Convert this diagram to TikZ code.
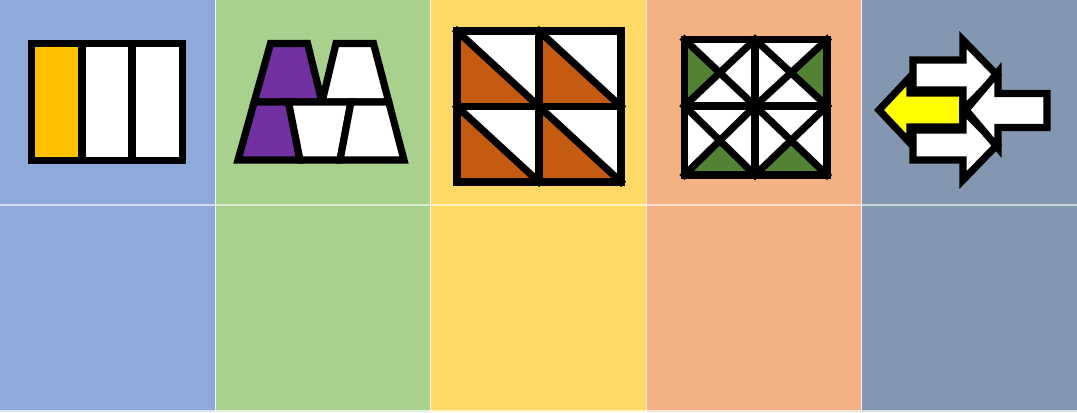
\documentclass[tikz,border=0pt]{standalone}
\usepackage{tikz}
\usetikzlibrary{calc}
\definecolor{cBlue}  {HTML}{8EAADB}
\definecolor{cGreen} {HTML}{A9D18E}
\definecolor{cYell}  {HTML}{FFD966}
\definecolor{cOrng}  {HTML}{F4B183}
\definecolor{cSlate} {HTML}{8497B0}
\definecolor{cGold}  {HTML}{FFC000}
\definecolor{cPurp}  {HTML}{7030A0}
\definecolor{cRust}  {HTML}{C55A11}
\definecolor{cLeaf}  {HTML}{548235}
\definecolor{cLemon} {HTML}{FFFF00}
\tikzset{
  ln/.style    ={draw=black,line width=5.4pt,line join=miter},
  tile/.style  ={ln,fill=white},
  grid/.style  ={draw=black,line width=5.4pt,line cap=rect},
  sep/.style   ={draw=white,line width=0.8pt,opacity=0.85},
}

\begin{document}
\begin{tikzpicture}[x=0.75pt,y=-0.75pt]
\useasboundingbox (0,0) rectangle (1077,412);

% ---- panels -------------------------------------------------------------
\foreach \i/\c in {0/cBlue,1/cGreen,2/cYell,3/cOrng,4/cSlate}
  {\fill[\c] (\i*215.4,0) rectangle ++(215.4,412);}
\foreach \i in {1,...,4}{\draw[sep] (\i*215.4,0) -- (\i*215.4,412);}
\draw[sep,line width=1.5pt,opacity=0.6] (0,205) -- (1077,205);
\draw[sep,line width=1.5pt,opacity=0.7] (0,410.5) -- (1077,410.5);

% ---- panel 1: three bars --------------------------------------------------
\filldraw[ln,fill=cGold] (31.5,43.5) rectangle (82,160.5);
\filldraw[tile] (82,43.5) rectangle (132,160.5);
\filldraw[tile] (132,43.5) rectangle (182.5,160.5);

% ---- panel 2: trapezoids --------------------------------------------------
\begin{scope}[shift={(215,0)}]
  \filldraw[ln,fill=cPurp] (55.5,43.5) -- (92.5,43.5) -- (107,102) -- (39.2,102) -- cycle;
  \filldraw[tile] (121,43.5) -- (158.5,43.5) -- (173.8,102) -- (107,102) -- cycle;
  \filldraw[ln,fill=cPurp] (39.2,102) -- (73.5,102) -- (85,160) -- (23,160) -- cycle;
  \filldraw[tile] (73.5,102) -- (136,102) -- (125,160) -- (85,160) -- cycle;
  \filldraw[tile] (136,102) -- (173.8,102) -- (189,160) -- (125,160) -- cycle;
\end{scope}

% ---- panel 3: half-square triangles ---------------------------------------
\begin{scope}[shift={(430,0)}]
  \foreach \xa/\xb in {27/109,109/191}
    \foreach \ya/\yb in {31/106.5,106.5/182}{
      \fill[cRust] (\xa,\ya) -- (\xa,\yb) -- (\xb,\yb) -- cycle;
      \fill[white] (\xa,\ya) -- (\xb,\ya) -- (\xb,\yb) -- cycle;
      \draw[grid] (\xa,\ya) rectangle (\xb,\yb);
      \draw[grid] (\xa,\ya) -- (\xb,\yb);
    }
\end{scope}

% ---- panel 4: quarter-square triangles ------------------------------------
\begin{scope}[shift={(645,0)}]
  \foreach \xa/\xb/\ya/\yb/\k in {39.5/110/39.5/106/l,110/182/39.5/106/r,
                                  39.5/110/106/175/b,110/182/106/175/b}{
    \coordinate (m) at ($(\xa,\ya)!0.5!(\xb,\yb)$);
    \fill[white] (\xa,\ya) rectangle (\xb,\yb);
    \if l\k \fill[cLeaf] (\xa,\ya) -- (m) -- (\xa,\yb) -- cycle; \fi
    \if r\k \fill[cLeaf] (\xb,\ya) -- (m) -- (\xb,\yb) -- cycle; \fi
    \if b\k \fill[cLeaf] (\xa,\yb) -- (m) -- (\xb,\yb) -- cycle; \fi
    \draw[grid] (\xa,\ya) rectangle (\xb,\yb);
    \draw[grid] (\xa,\ya) -- (\xb,\yb);
    \draw[grid] (\xb,\ya) -- (\xa,\yb);
  }
\end{scope}

% ---- panel 5: arrows ------------------------------------------------------
\begin{scope}[shift={(860,0)}]
  \filldraw[ln,fill=cLemon] (19,110) -- (50,77) -- (50,93) -- (103,93)
    -- (103,127) -- (50,127) -- (50,143) -- cycle;
  \filldraw[tile] (53,60) -- (103,60) -- (103,40) -- (137,75) -- (103,110)
    -- (103,90) -- (53,90) -- cycle;
  \filldraw[tile] (53,130) -- (103,130) -- (103,110) -- (137,145) -- (103,180)
    -- (103,160) -- (53,160) -- cycle;
  \filldraw[tile] (106,110) -- (138,72) -- (138,93.5) -- (187,93.5)
    -- (187,127.5) -- (138,127.5) -- (138,148) -- cycle;
\end{scope}
\end{tikzpicture}
\end{document}
